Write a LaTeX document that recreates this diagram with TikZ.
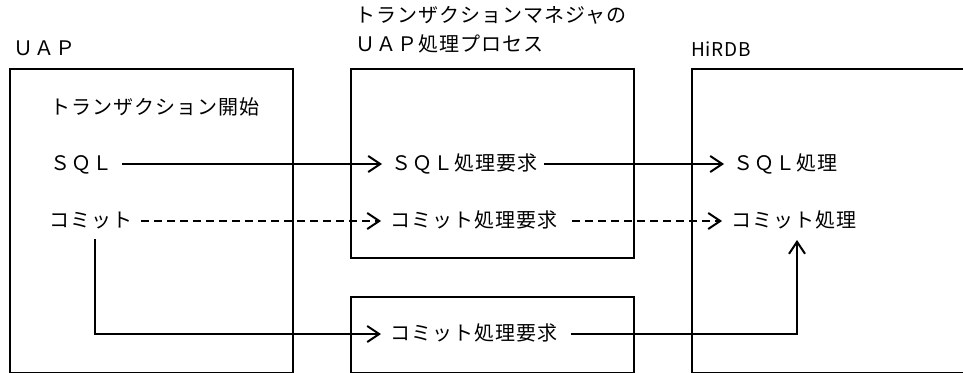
\documentclass[tikz,border=0pt]{standalone}
\usepackage{fontspec}
\newfontfamily\jp[LetterSpace=5]{Noto Sans CJK JP}
\newfontfamily\jpn[LetterSpace=4]{Noto Sans CJK JP}
\usetikzlibrary{arrows.meta}
\begin{document}
\begin{tikzpicture}[x=1pt,y=-1pt,
  box/.style={draw,line width=2pt},
  lbl/.style={anchor=west,inner sep=0pt,font=\jp\fontsize{20}{24}\selectfont,text height=15pt,text depth=3pt},
  conn/.style={line width=2pt,-{Straight Barb[length=12pt,width=16pt,line width=2pt]}},
  dsh/.style={dash pattern=on 8pt off 5pt}]
\useasboundingbox (0,0) rectangle (963,372);
% boxes
\draw[box] (10,69) rectangle (293,372.5);
\draw[box] (351,69) rectangle (634,258);
\draw[box] (351,297) rectangle (634,372.5);
\draw[box] (692,69) rectangle (975,372.5);
% labels
\node[lbl] (uap) at (13,49) {ＵＡＰ};
\node[lbl] (tm1) at (355,17) {トランザクションマネジャの};
\node[lbl] (tm2) at (355,45) {ＵＡＰ処理プロセス};
\node[lbl,font=\jpn\fontsize{19}{22}\selectfont] (hirdb) at (691,50) {HiRDB};
\node[lbl] (start) at (50,108) {トランザクション開始};
\node[lbl] (sql) at (50,164) {ＳＱＬ};
\node[lbl] (sqlreq) at (391,164) {ＳＱＬ処理要求};
\node[lbl] (sqlproc) at (733,164) {ＳＱＬ処理};
\node[lbl] (commit) at (49,221) {コミット};
\node[lbl] (commitreq) at (390,221) {コミット処理要求};
\node[lbl] (commitproc) at (731,221) {コミット処理};
\node[lbl] (lowreq) at (390,334) {コミット処理要求};
\coordinate (dn) at (95,239);
\coordinate (up) at (797,240);
% connectors
\draw[conn,shorten <=10pt,shorten >=9pt] (sql.east) -- (sqlreq.west);
\draw[conn,shorten <=7pt,shorten >=9pt] (sqlreq.east) -- (sqlproc.west);
\draw[conn,dsh,shorten <=9pt,shorten >=9pt] (commit.east) -- (commitreq.west);
\draw[conn,dsh,shorten <=15pt,shorten >=9pt] (commitreq.east) -- (commitproc.west);
\draw[conn,shorten >=9pt] (dn) |- (lowreq.west);
\draw[conn,shorten <=14pt] (lowreq.east) -| (up);
\end{tikzpicture}
\end{document}
